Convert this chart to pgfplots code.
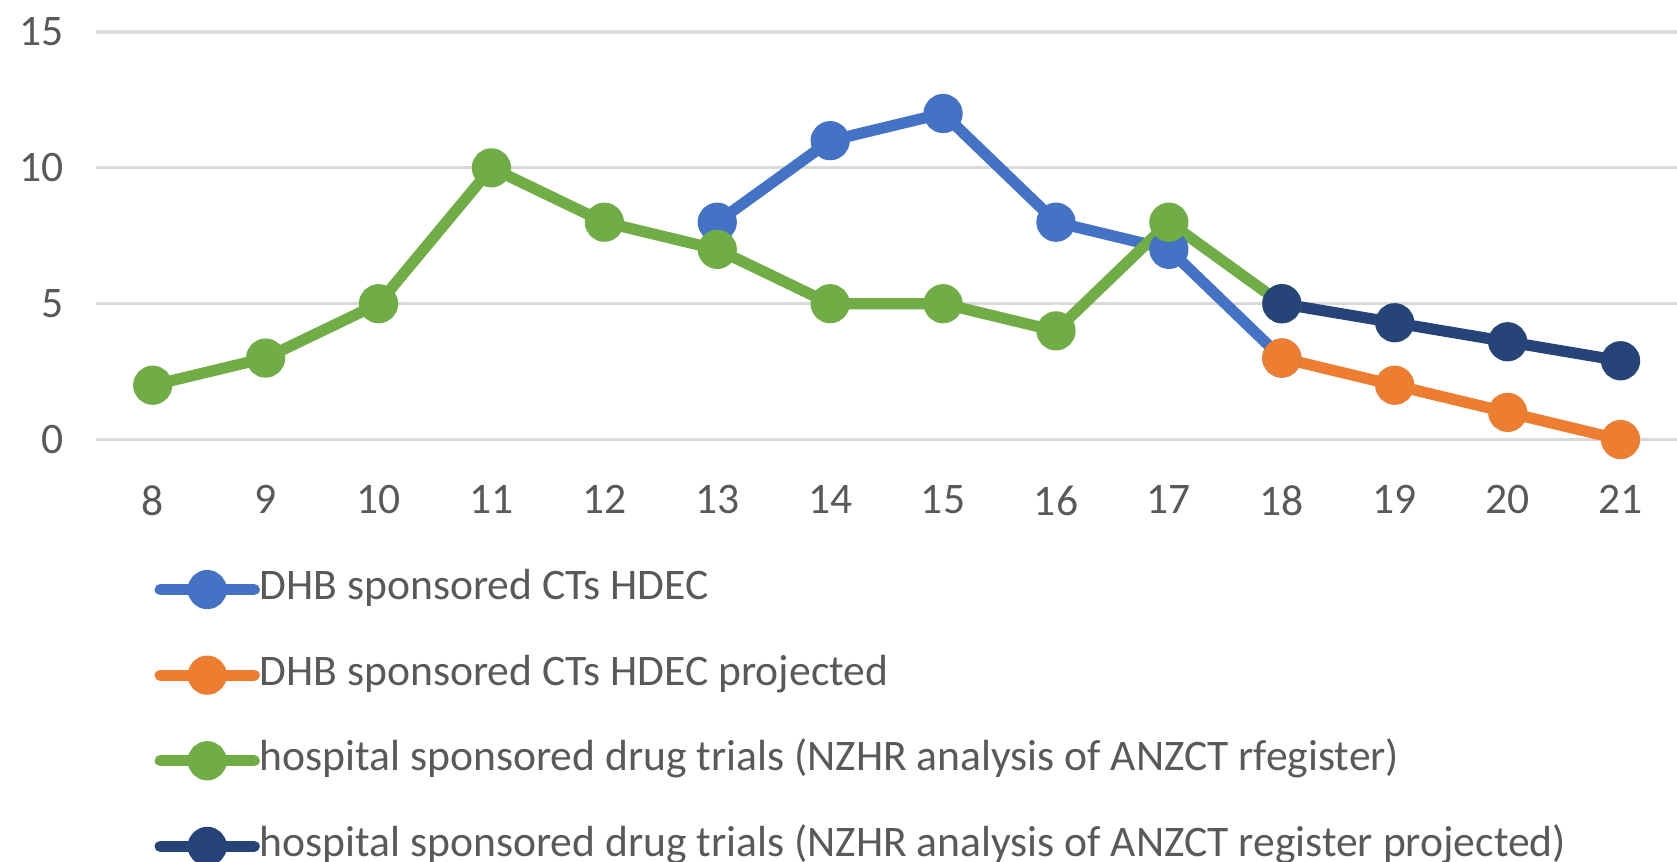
\documentclass[border=0pt]{standalone}
\usepackage{fontspec}
\setmainfont{Carlito}
\usepackage{pgfplots}
\pgfplotsset{compat=1.18}
\definecolor{sBlue}{HTML}{4472C4}
\definecolor{sOrange}{HTML}{ED7D31}
\definecolor{sGreen}{HTML}{70AD47}
\definecolor{sNavy}{HTML}{264478}
\definecolor{gridc}{HTML}{D9D9D9}
\definecolor{txt}{HTML}{595959}
\begin{document}
\fontsize{10.9}{13}\selectfont
\begin{tikzpicture}
\useasboundingbox (-24.06pt,-105.6pt) rectangle (395.2pt,109.9pt);
\begin{axis}[
  at={(0,0)}, anchor=south west,
  scale only axis, width=395.2pt, height=101.9pt,
  xmin=7.5, xmax=21.5, ymin=0, ymax=15,
  xtick={8,...,21}, ytick={0,5,10,15},
  axis line style={draw=none},
  major tick length=0pt,
  ymajorgrids, grid style={gridc, line width=0.8pt},
  /pgf/number format/assume math mode=true,
  tick label style={font=\fontsize{10.9}{13}\selectfont, text=txt},
  yticklabel style={anchor=east, inner sep=0pt, xshift=-8pt},
  xticklabel style={anchor=north, inner sep=0pt, yshift=-11.3pt},
  clip=false,
  every axis plot/.append style={line width=2.8pt, line join=round, line cap=round, mark=*, mark size=3.5pt},
  legend cell align=left,
  legend image code/.code={\draw[mark repeat=2,mark phase=2,#1] plot coordinates {(0pt,0pt) (11.75pt,0pt) (23.5pt,0pt)};},
  legend style={draw=none, fill=none, at={(0,0)}, anchor=north west, xshift=14.4pt, yshift=-32.2pt,
    font=\fontsize{10.9}{13}\selectfont, text=txt, inner sep=0pt, row sep=11.2pt,
    nodes={inner sep=0pt, text height=7.6pt, text depth=2.6pt},
    /tikz/every even column/.append style={column sep=1.3pt}},
]
\addplot[sBlue, mark options={fill=sBlue, draw=sBlue}] coordinates {(13,8)(14,11)(15,12)(16,8)(17,7)(18,3)};
\addlegendentry{DHB sponsored CTs HDEC}
\addplot[sOrange, mark options={fill=sOrange, draw=sOrange}] coordinates {(18,3)(19,2)(20,1)(21,0)};
\addlegendentry{DHB sponsored CTs HDEC projected}
\addplot[sGreen, mark options={fill=sGreen, draw=sGreen}] coordinates {(8,2)(9,3)(10,5)(11,10)(12,8)(13,7)(14,5)(15,5)(16,4)(17,8)(18,5)};
\addlegendentry{hospital sponsored drug trials (NZHR analysis of ANZCT rfegister)}
\addplot[sNavy, mark options={fill=sNavy, draw=sNavy}] coordinates {(18,5)(19,4.3)(20,3.6)(21,2.9)};
\addlegendentry{hospital sponsored drug trials (NZHR analysis of ANZCT register projected)}
\end{axis}
\end{tikzpicture}
\end{document}
